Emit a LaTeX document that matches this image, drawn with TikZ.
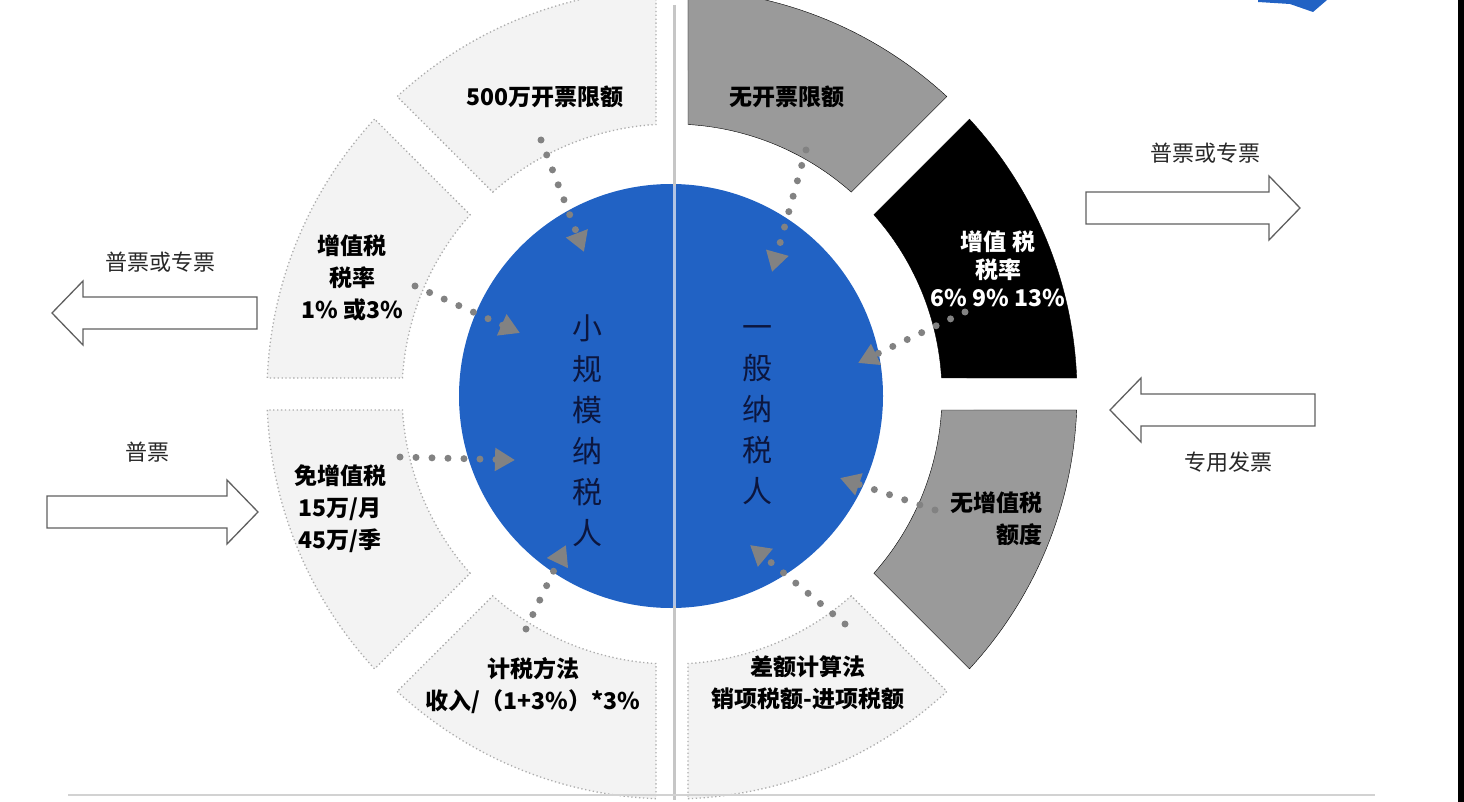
\documentclass[tikz,border=0pt]{standalone}
\usepackage{fontspec}
\setmainfont{Noto Sans CJK SC}
\usepackage{tikz}
\usetikzlibrary{arrows.meta}
\definecolor{coreblue}{RGB}{33,98,196}
\definecolor{navy}{RGB}{12,22,62}
\definecolor{lightseg}{RGB}{243,243,243}
\definecolor{midgray}{RGB}{154,154,154}
\definecolor{dotgray}{RGB}{130,130,130}
\definecolor{txtgray}{RGB}{40,40,40}
\definecolor{splitblue}{RGB}{178,196,228}
\tikzset{
  seglite/.style={fill=lightseg,draw=gray!65,line width=1.3pt,dash pattern=on 1.3pt off 2.6pt},
  segmid/.style={fill=midgray},
  segdark/.style={fill=black},
  segtxt/.style={font=\bfseries\fontsize{23}{32}\selectfont,align=center,inner sep=0pt},
  vtxt/.style={font=\fontsize{30}{41}\selectfont,text=navy,align=center,inner sep=0pt},
  dotarrow/.style={dotgray,line width=7pt,line cap=round,dash pattern=on 0pt off 16pt,-{Triangle[length=20pt,width=22pt]}},
  blk/.style={draw=gray!75!black,fill=white,line width=1.3pt,line join=miter},
  lbl/.style={font=\fontsize{22}{26}\selectfont,text=txtgray,inner sep=0pt},
  divider/.style={gray!45,line width=3pt}
}
\newcommand{\rin}{270}
\newcommand{\rout}{405}
\newcommand{\din}{3.40}
\newcommand{\dout}{2.26}
\newcommand{\ringseg}[3]{\draw[#3] ({#1+\dout}:\rout) arc[start angle={#1+\dout},end angle={#2-\dout},radius=\rout] -- ({#2-\din}:\rin) arc[start angle={#2-\din},end angle={#1+\din},radius=\rin] -- cycle;}
\newcommand{\blockarr}[4]{\draw[blk] (#1,{#3-16}) -- ({#2-(#4)},{#3-16}) -- ({#2-(#4)},{#3-32}) -- (#2,#3) -- ({#2-(#4)},{#3+32}) -- ({#2-(#4)},{#3+16}) -- (#1,{#3+16}) -- cycle;}

\begin{document}
\begin{tikzpicture}[x=1pt,y=-1pt]
\useasboundingbox[fill=white] (0,0) rectangle (1464,802);
\begin{scope}[shift={(672,394)},y=1pt]
\ringseg{90}{135}{seglite}
\ringseg{135}{180}{seglite}
\ringseg{180}{225}{seglite}
\ringseg{225}{270}{seglite}
\ringseg{270}{315}{seglite}
\ringseg{315}{360}{segmid}
\ringseg{0}{45}{segdark}
\ringseg{45}{90}{segmid}
\end{scope}
\node[circle,fill=coreblue,minimum size=424pt,inner sep=0pt] (core) at (671,396) {};
\draw[divider] (674,5) -- (674,800);
\draw[splitblue,line width=3pt] (674,186) -- (674,606);
\node[vtxt] (small) at (587,431) {小\\规\\模\\纳\\税\\人};
\node[vtxt] (general) at (757,415) {一\\般\\纳\\税\\人};
\node[segtxt] (quota) at (545,97) {500万开票限额};
\node[segtxt] (rate) at (352,278) {增值税\\税率\\1\% 或3\%};
\node[segtxt] (exempt) at (340,509) {免增值税\\15万/月\\45万/季};
\node[segtxt] (method) at (533,686) {计税方法\\收入/（1+3\%）*3\%};
\node[segtxt] (noquota) at (787,97) {无开票限额};
\node[segtxt,text=white,font=\bfseries\fontsize{23}{28}\selectfont] (genrate) at (998,269) {增值 税\\税率\\6\% 9\% 13\%};
\node[segtxt,align=right,anchor=east] (nolimit) at (1043,519) {无增值税\\额度};
\node[segtxt] (diff) at (808,683) {差额计算法\\销项税额-进项税额};
\foreach \i/\ax/\ay/\bx/\by in {1/541/140/584/252,2/415/286/520/333,3/400/457/515/460,4/526/629/566/545,5/806/150/772/272,6/965/312/858/363,7/935/510/840/478,8/845/624/750/545}{
  \coordinate (a\i) at (\ax,\ay); \coordinate (b\i) at (\bx,\by);
  \draw[dotarrow] (a\i) -- (b\i);}
\blockarr{257}{52}{313}{-31}
\blockarr{47}{258}{512}{31}
\blockarr{1086}{1300}{208}{31}
\blockarr{1315}{1110}{410}{-31}
\node[lbl] (outl) at (160,262) {普票或专票};
\node[lbl] (inl) at (147,452) {普票};
\node[lbl] (outr) at (1205,153) {普票或专票};
\node[lbl] (inr) at (1228,462) {专用发票};
\draw[gray!35,line width=2pt] (68,795) -- (1375,795);
\fill (1458,0) rectangle (1464,802);
\fill[coreblue] (1258,0) -- (1327,0) -- (1313,12) -- (1290,4) -- (1258,2) -- cycle;
\end{tikzpicture}
\end{document}
